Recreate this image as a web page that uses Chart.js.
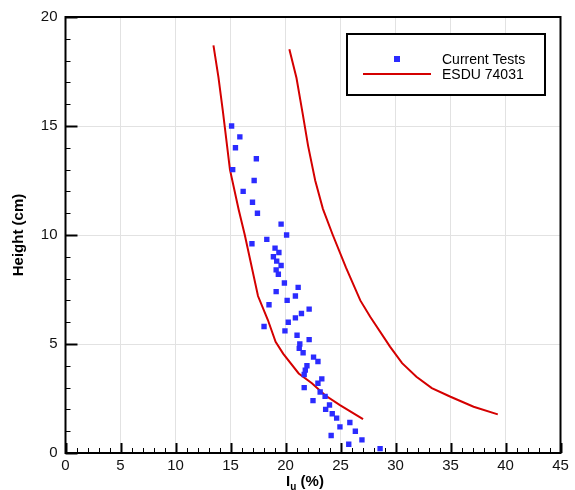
<!DOCTYPE html>
<html>
<head>
<meta charset="utf-8">
<script src="https://cdn.jsdelivr.net/npm/chart.js@4/dist/chart.umd.min.js"></script>
<style>
  body { margin: 0; background: #fff; }
  #wrap { width: 575px; height: 490px; }
</style>
</head>
<body>
<div id="wrap"><canvas id="myChart" width="575" height="490"></canvas></div>
<script>
// measured turbulence intensity profile
const testHeight = [0.2, 0.4, 0.6, 0.8, 1.0, 1.2, 1.4, 1.6, 1.8, 2.0, 2.2, 2.4, 2.6, 2.8, 3.0, 3.2, 3.4, 3.6, 3.8, 4.0,
    4.2, 4.4, 4.6, 4.8, 5.0, 5.2, 5.4, 5.6, 5.8, 6.0, 6.2, 6.4, 6.6, 6.8, 7.0, 7.2, 7.4, 7.6, 7.8, 8.2,
    8.4, 8.6, 8.8, 9.0, 9.2, 9.4, 9.6, 9.8, 10.0, 10.5, 11.0, 11.5, 12.0, 12.5, 13.0, 13.5, 14.0, 14.5, 15.0];
const testIu = [28.6, 25.75, 26.95, 24.15, 26.35, 24.95, 25.85, 24.65, 24.25, 23.65, 24.0, 22.5, 23.6, 23.15, 21.7, 22.95, 23.3, 21.7, 21.8, 21.95,
    22.95, 22.55, 21.6, 21.25, 21.3, 22.15, 21.05, 19.95, 18.05, 20.25, 20.9, 21.45, 22.15, 18.5, 20.15, 20.9, 19.15, 21.15, 19.9, 19.35,
    19.15, 19.6, 19.2, 18.9, 19.4, 19.05, 16.95, 18.3, 20.1, 19.6, 17.45, 17.0, 16.15, 17.15, 15.2, 17.35, 15.45, 15.85, 15.1];

// ESDU 74031 curves
const esduLowIu = [13.45, 13.9, 14.3, 14.95, 15.75, 16.3, 17.5, 18.4, 19.1, 19.8, 21.2, 22.4, 23.6, 24.95, 27.05];
const esduLowHeight = [18.7, 17.25, 15.7, 13.0, 11.15, 10.0, 7.2, 6.1, 5.1, 4.55, 3.65, 3.2, 2.65, 2.2, 1.55];
const esduHighIu = [20.35, 21.0, 21.55, 22.05, 22.7, 23.4, 24.3, 25.5, 26.8, 27.7, 29.5, 30.6, 31.9, 33.3, 35.0, 37.1, 39.3];
const esduHighHeight = [18.52, 17.2, 15.6, 14.1, 12.5, 11.2, 10.0, 8.5, 7.0, 6.25, 4.88, 4.12, 3.5, 2.98, 2.58, 2.12, 1.77];

const xTicks = [0, 5, 10, 15, 20, 25, 30, 35, 40, 45];
const yTicks = [0, 5, 10, 15, 20];
const xTitle = ["I", "u", " (%)"];
const yTitle = "Height (cm)";

const toPts = (xs, ys) => xs.map((v, i) => ({ x: v, y: ys[i] }));

const FONT = "'Liberation Sans', Arial, sans-serif";

const frame = {
    id: "frame",
    afterDatasetsDraw(chart) {
        const { ctx, chartArea: a, scales: { x, y } } = chart;
        ctx.save();
        ctx.strokeStyle = "#000";
        // inward ticks, major every 5, minor every 1
        for (let v = xTicks[0]; v <= xTicks[xTicks.length - 1]; v++) {
            const px = Math.round(x.getPixelForValue(v)) + 0.5;
            const major = xTicks.includes(v);
            ctx.lineWidth = major ? 2 : 1;
            ctx.beginPath();
            ctx.moveTo(px, a.bottom);
            ctx.lineTo(px, a.bottom - (major ? 10 : 5));
            ctx.stroke();
        }
        for (let v = yTicks[0]; v <= yTicks[yTicks.length - 1]; v++) {
            const py = Math.round(y.getPixelForValue(v)) + 0.5;
            const major = yTicks.includes(v);
            ctx.lineWidth = major ? 2 : 1;
            ctx.beginPath();
            ctx.moveTo(a.left, py);
            ctx.lineTo(a.left + (major ? 12 : 5), py);
            ctx.stroke();
        }
        ctx.lineWidth = 2;
        ctx.strokeRect(a.left, a.top, a.width, a.height);

        // axis titles
        ctx.fillStyle = "#000";
        ctx.font = "bold 15px " + FONT;
        ctx.textBaseline = "alphabetic";
        const w0 = ctx.measureText(xTitle[0]).width;
        const w2 = ctx.measureText(xTitle[2]).width;
        ctx.font = "bold 10px " + FONT;
        const w1 = ctx.measureText(xTitle[1]).width;
        let tx = (a.left + a.right) / 2 - 8 - (w0 + w1 + w2) / 2;
        const ty = 486;
        ctx.font = "bold 15px " + FONT;
        ctx.fillText(xTitle[0], tx, ty);
        tx += w0;
        ctx.font = "bold 10px " + FONT;
        ctx.fillText(xTitle[1], tx, ty + 4);
        tx += w1;
        ctx.font = "bold 15px " + FONT;
        ctx.fillText(xTitle[2], tx, ty);

        ctx.save();
        ctx.translate(19, (a.top + a.bottom) / 2);
        ctx.rotate(-Math.PI / 2);
        ctx.textAlign = "center";
        ctx.textBaseline = "middle";
        ctx.font = "bold 15px " + FONT;
        ctx.fillText(yTitle, 0, 0);
        ctx.restore();

        // legend box
        const ds = chart.data.datasets;
        ctx.fillStyle = "#fff";
        ctx.fillRect(347, 34, 198, 61);
        ctx.lineWidth = 2;
        ctx.strokeStyle = "#000";
        ctx.strokeRect(347, 34, 198, 61);
        ctx.fillStyle = ds[0].backgroundColor;
        ctx.fillRect(394, 56, 6, 6);
        ctx.strokeStyle = ds[1].borderColor;
        ctx.lineWidth = 2;
        ctx.beginPath();
        ctx.moveTo(363, 74);
        ctx.lineTo(431, 74);
        ctx.stroke();
        ctx.fillStyle = "#000";
        ctx.font = "14px " + FONT;
        ctx.textBaseline = "middle";
        ctx.fillText(ds[0].label, 442, 60);
        ctx.fillText(ds[1].label, 442, 75);
        ctx.restore();
    },
};

const ctx = document.getElementById("myChart").getContext("2d");

const myChart = new Chart(ctx, {
    type: "scatter",
    data: {
        datasets: [
            {
                label: "Current Tests",
                data: toPts(testIu, testHeight),
                pointStyle: "rect",
                pointRadius: 3.8,
                pointHoverRadius: 3.8,
                borderWidth: 0,
                backgroundColor: "#2b2bff",
                borderColor: "#2b2bff",
            },
            {
                label: "ESDU 74031",
                type: "line",
                data: toPts(esduLowIu, esduLowHeight),
                showLine: true,
                pointRadius: 0,
                borderColor: "#d40000",
                borderWidth: 2,
                tension: 0,
            },
            {
                label: "ESDU 74031",
                type: "line",
                data: toPts(esduHighIu, esduHighHeight),
                showLine: true,
                pointRadius: 0,
                borderColor: "#d40000",
                borderWidth: 2,
                tension: 0,
            },
        ],
    },
    options: {
        responsive: false,
        animation: false,
        layout: { padding: { top: 17, right: 14.5, left: 0, bottom: 0 } },
        plugins: {
            legend: { display: false },
            tooltip: { enabled: false },
        },
        scales: {
            x: {
                type: "linear",
                min: 0,
                max: 45,
                afterBuildTicks: (s) => { s.ticks = xTicks.map((v) => ({ value: v })); },
                afterFit: (s) => { s.height = 37; },
                grid: { color: "#e2e2e2", lineWidth: 1, drawTicks: false },
                border: { display: false },
                ticks: {
                    color: "#111",
                    padding: 4,
                    maxRotation: 0,
                    font: { family: FONT, size: 15 },
                },
            },
            y: {
                type: "linear",
                min: 0,
                max: 20,
                afterBuildTicks: (s) => { s.ticks = yTicks.map((v) => ({ value: v })); },
                afterFit: (s) => { s.width = 65.5; },
                grid: { color: "#e2e2e2", lineWidth: 1, drawTicks: false },
                border: { display: false },
                ticks: {
                    color: "#111",
                    padding: 8,
                    font: { family: FONT, size: 15 },
                },
            },
        },
    },
    plugins: [frame],
});
</script>
</body>
</html>
